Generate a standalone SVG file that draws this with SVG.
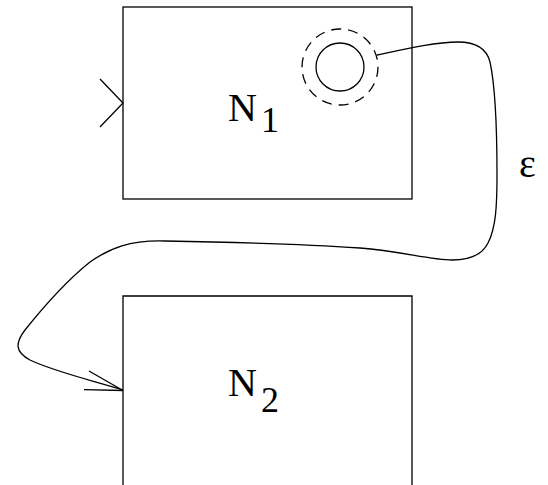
<svg xmlns="http://www.w3.org/2000/svg" width="548" height="485" viewBox="0 0 548 485">
<style>
.box{fill:none;stroke:#000;stroke-width:1.3}
.ln{fill:none;stroke:#000;stroke-width:1.3}
.lbl{font-family:"Liberation Serif","Times New Roman",serif;fill:#000}
</style>
<rect width="548" height="485" fill="#fff"/>
<g id="N1">
<rect class="box" x="123" y="7" width="289" height="192"/>
<polyline class="ln" points="100,79 123,103 100,127"/>
<circle class="ln" cx="340" cy="67" r="24"/>
<circle class="ln" cx="340" cy="67" r="38" stroke-dasharray="10,7"/>
<text class="lbl" x="228" y="121" font-size="40" font-family="Liberation Serif, serif">N<tspan font-size="36" dx="4" dy="11">1</tspan></text>
</g>
<g id="N2">
<polyline class="box" points="123,485 123,296 412,296 412,485"/>
<text class="lbl" x="228" y="396" font-size="40" font-family="Liberation Serif, serif">N<tspan font-size="36" dx="4" dy="16">2</tspan></text>
</g>
<g id="connectors">
<path class="ln" d="M377,55 C405,49 435,42 458,42 C478,42 487,50 490,62 C495,85 497,130 497,175 C497,205 496,228 488,243 C482,255 470,260 452,260 C430,260 400,251 360,248 C300,244 220,242 165,241 C130,240 110,248 90,262 C70,278 45,305 25,330 C15,343 15,352 30,360 C55,372 95,381 123,390"/>
<polyline class="ln" points="89,371 123,390.5 84,389.7"/>
<text class="lbl" x="519" y="177" font-size="40" font-family="Liberation Serif, serif">ε</text>
</g>
</svg>
